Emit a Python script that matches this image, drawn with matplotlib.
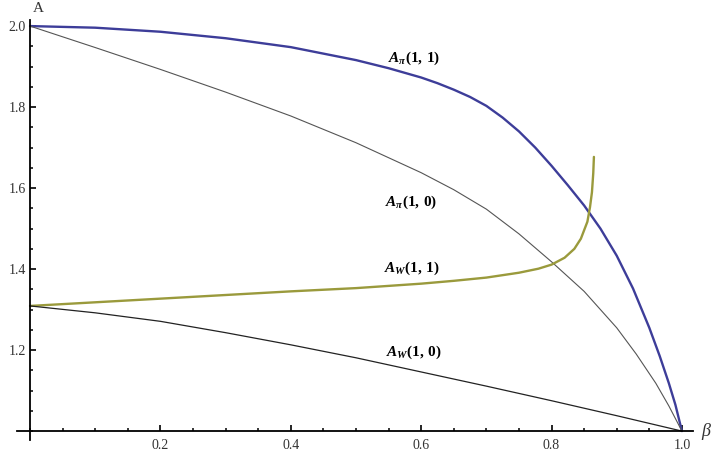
"""
A(beta) curves for the pi and W cases, drawn in the Mathematica style.
"""

import matplotlib
matplotlib.use('Agg')
import matplotlib.pyplot as plt
from matplotlib.ticker import MultipleLocator, FixedLocator

# values
beta_pi11 = [0.0, 0.1, 0.2, 0.3, 0.4, 0.5, 0.55, 0.6, 0.625, 0.65, 0.675,
             0.7, 0.725, 0.75, 0.775, 0.8, 0.825, 0.85, 0.875, 0.9, 0.925,
             0.95, 0.966, 0.98, 0.99, 1.0]
a_pi11 = [2.0, 1.996, 1.986, 1.970, 1.948, 1.916, 1.896, 1.873, 1.859,
          1.843, 1.825, 1.803, 1.774, 1.740, 1.700, 1.655, 1.607, 1.557,
          1.500, 1.433, 1.352, 1.255, 1.185, 1.118, 1.065, 1.0]

beta_pi10 = [0.0, 0.1, 0.2, 0.3, 0.4, 0.5, 0.6, 0.65, 0.7, 0.75, 0.8,
             0.85, 0.9, 0.93, 0.96, 0.98, 1.0]
a_pi10 = [2.0, 1.947, 1.893, 1.837, 1.778, 1.712, 1.638, 1.596, 1.548,
          1.487, 1.418, 1.345, 1.255, 1.19, 1.118, 1.062, 1.0]

beta_w11 = [0.0, 0.1, 0.2, 0.3, 0.4, 0.5, 0.6, 0.65, 0.7, 0.75, 0.765,
            0.78, 0.8, 0.82, 0.835, 0.845, 0.855, 0.859, 0.862, 0.864,
            0.865]
a_w11 = [1.309, 1.318, 1.327, 1.336, 1.345, 1.353, 1.364, 1.371, 1.379,
         1.391, 1.396, 1.401, 1.411, 1.428, 1.45, 1.475, 1.517, 1.553,
         1.59, 1.637, 1.677]

beta_w10 = [0.0, 0.1, 0.2, 0.3, 0.4, 0.5, 0.6, 0.7, 0.8, 0.9, 1.0]
a_w10 = [1.309, 1.292, 1.271, 1.243, 1.213, 1.181, 1.146, 1.111, 1.075,
         1.038, 1.0]

labels = ['$A_{\\pi}(1,\\,1)$', '$A_{\\pi}(1,\\,0)$',
          '$A_{W}(1,\\,1)$', '$A_{W}(1,\\,0)$']
label_x = [0.549, 0.545, 0.543, 0.546]
label_y = [1.921, 1.565, 1.402, 1.195]

x_ticks = [0.2, 0.4, 0.6, 0.8, 1.0]
y_ticks = [1.2, 1.4, 1.6, 1.8, 2.0]

plt.rcParams['font.family'] = ['Liberation Serif', 'DejaVu Serif']
plt.rcParams['mathtext.fontset'] = 'custom'
plt.rcParams['mathtext.rm'] = 'Liberation Serif:bold'
plt.rcParams['mathtext.it'] = 'Liberation Serif:bold:italic'
plt.rcParams['mathtext.bf'] = 'Liberation Serif:bold'

W, H = 723, 466
fig = plt.figure(figsize=(W / 100, H / 100), dpi=100)
ax = fig.add_axes([17 / W, (H - 440) / H, (693 - 17) / W, (440 - 20) / H])

ax.plot(beta_pi11, a_pi11, color='#3d3d99', lw=1.7, solid_capstyle='round')
ax.plot(beta_pi10, a_pi10, color='#555555', lw=0.8)
ax.plot(beta_w11, a_w11, color='#9a9a3c', lw=1.7, solid_capstyle='round')
ax.plot(beta_w10, a_w10, color='#222222', lw=0.9)

for t, x, y in zip(labels, label_x, label_y):
    ax.text(x, y, t, fontsize=11, ha='left', va='center')

ax.set_xlim(-0.02, 1.017)
ax.set_ylim(0.978, 2.015)

for s in ['top', 'right']:
    ax.spines[s].set_visible(False)
ax.spines['left'].set_position(('data', 0.0))
ax.spines['bottom'].set_position(('data', 1.0))
ax.spines['left'].set_linewidth(1.3)
ax.spines['bottom'].set_linewidth(1.3)

ax.xaxis.set_major_locator(FixedLocator(x_ticks))
ax.yaxis.set_major_locator(FixedLocator(y_ticks))
ax.xaxis.set_minor_locator(MultipleLocator(0.05))
ax.yaxis.set_minor_locator(MultipleLocator(0.05))
ax.set_xticklabels(['%.1f' % v for v in x_ticks])
ax.set_yticklabels(['%.1f' % v for v in y_ticks])
ax.tick_params(which='major', direction='in', length=4, width=1.2,
               labelsize=10, colors='black', labelcolor='#333333')
ax.tick_params(which='minor', direction='in', length=2.5, width=1.1)
ax.tick_params(axis='x', which='both', pad=6)
ax.tick_params(axis='y', which='both', pad=3)

fig.text(38 / W, 1 - 8 / H, 'A', fontsize=11, ha='center', va='center',
         color='#333333')
fig.text(706 / W, 1 - 432 / H, 'β', fontsize=13, ha='center', va='center',
         style='italic', color='#333333')

plt.savefig('out.png', dpi=100)
